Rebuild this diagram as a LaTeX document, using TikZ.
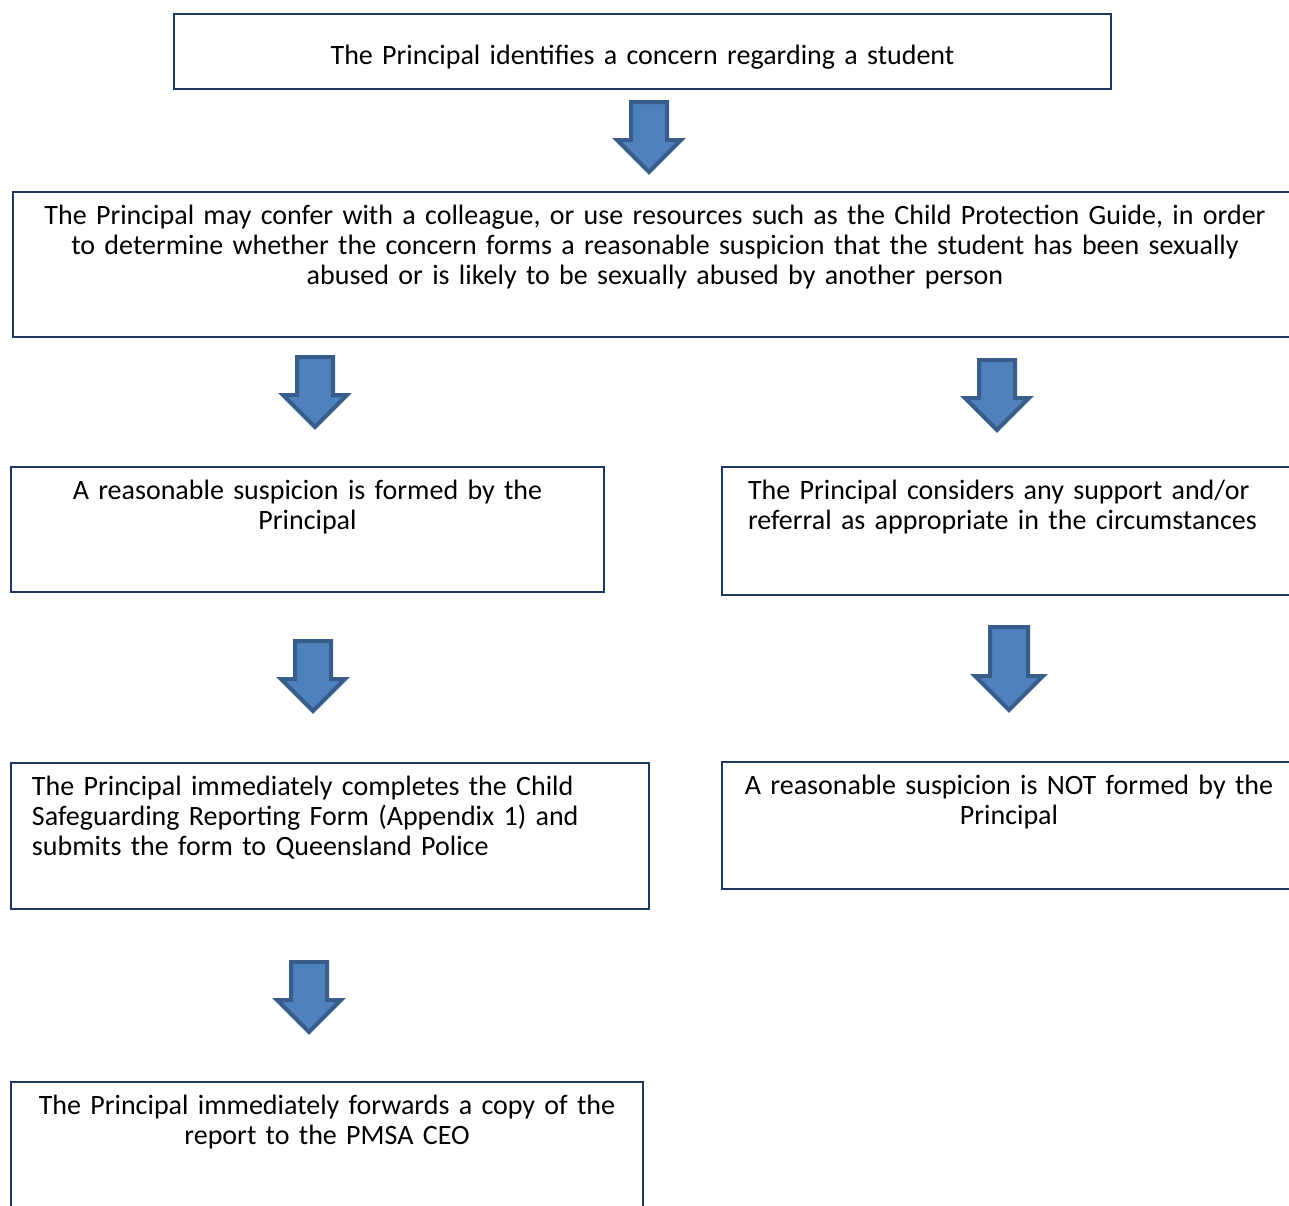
\documentclass[tikz,border=0pt]{standalone}
\usepackage{fontspec}
\setmainfont{Carlito}
\usetikzlibrary{shapes.arrows}

\definecolor{boxline}{HTML}{1F3864}
\definecolor{arrowfill}{HTML}{4F81BD}
\definecolor{arrowline}{HTML}{385D8A}

\tikzset{
  stepbox/.style={rectangle, draw=boxline, line width=1pt, fill=white, anchor=north west,
    font=\fontsize{14}{15}\selectfont, inner xsep=4pt, inner ysep=6.5pt, text height=9.75pt},
  downarrow/.style={single arrow, draw=arrowline, fill=arrowfill, line width=2pt,
    rotate=-90, anchor=tail, inner xsep=0pt, inner ysep=8pt, minimum height=35pt,
    single arrow head extend=7pt, single arrow tip angle=90}
}

\begin{document}
\begin{tikzpicture}[x=0.5pt, y=-0.5pt]
  \useasboundingbox (0,0) rectangle (1289,1205);
  \clip (0,0) rectangle (1289,1205);

  \node[stepbox, text width=460.5pt, align=center, text height=18.5pt, text depth=6pt] (concern) at (173,13)
    {The Principal identifies a concern regarding a student};
  \node[stepbox, text width=634pt, align=center, text depth=49.75pt] (confer) at (12,191)
    {The Principal may confer with a colleague, or use resources such as the Child Protection Guide, in order\\
     to determine whether the concern forms a reasonable suspicion that the student has been sexually\\
     abused or is likely to be sexually abused by another person};
  \node[stepbox, text width=288.5pt, align=center, text depth=39.75pt] (formed) at (10,466)
    {A reasonable suspicion is formed by the\\Principal};
  \node[stepbox, text width=274pt, inner xsep=13pt, align=left, text depth=41.25pt] (support) at (721,466)
    {The Principal considers any support and/or\\referral as appropriate in the circumstances};
  \node[stepbox, text width=298pt, inner xsep=10.5pt, align=left, text depth=50.25pt] (report) at (10,762)
    {The Principal immediately completes the Child\\Safeguarding Reporting Form (Appendix 1) and\\submits the form to Queensland Police};
  \node[stepbox, text width=279pt, align=center, text depth=40.75pt] (notformed) at (721,761)
    {A reasonable suspicion is NOT formed by the\\Principal};
  \node[stepbox, text width=308pt, align=center, text depth=52.25pt] (forward) at (10,1081)
    {The Principal immediately forwards a copy of the\\report to the PMSA CEO};

  \node[downarrow] (a1) at (649,100) {};
  \node[downarrow] (a2l) at (315,355) {};
  \node[downarrow] (a2r) at (997,358) {};
  \node[downarrow] (a3l) at (313,639) {};
  \node[downarrow, minimum height=41.5pt, inner ysep=8.5pt, single arrow head extend=7.5pt] (a3r) at (1009,625) {};
  \node[downarrow] (a4) at (309,960) {};
\end{tikzpicture}
\end{document}
